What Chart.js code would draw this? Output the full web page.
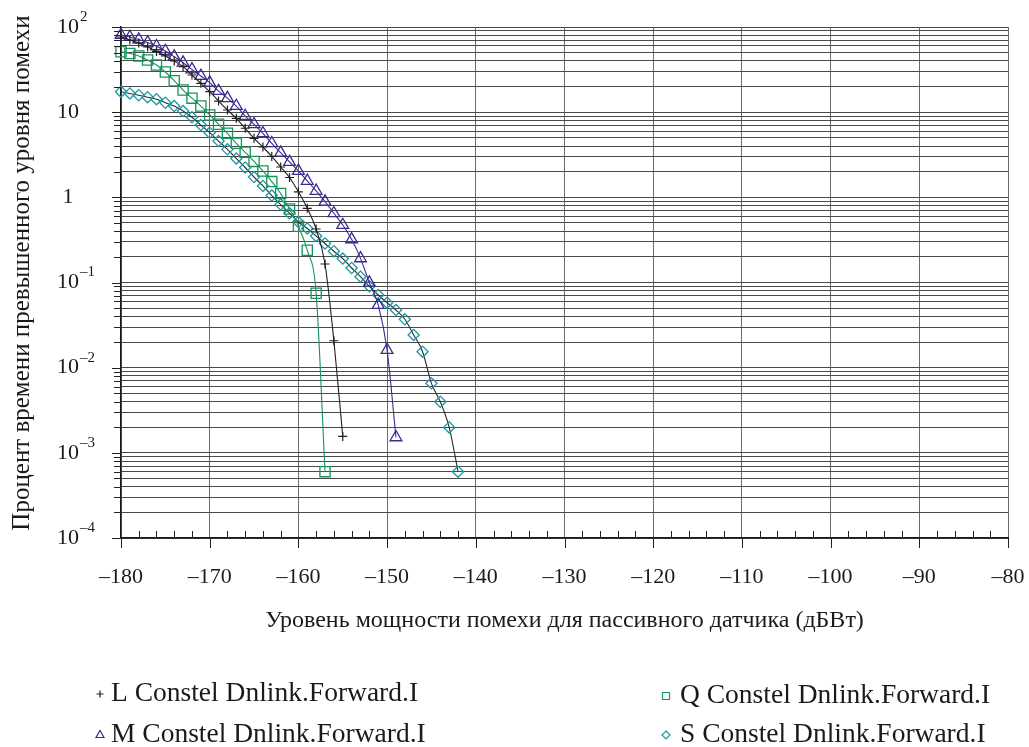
<!DOCTYPE html>
<html>
<head>
<meta charset="utf-8">
<script src="https://cdn.jsdelivr.net/npm/chart.js@4/dist/chart.umd.min.js"></script>
<style>
  html, body { margin: 0; padding: 0; background: #fff; }
  #wrap { width: 1029px; height: 747px; }
</style>
</head>
<body>
<div id="wrap"><canvas id="c" width="1029" height="747"></canvas></div>
<script>
// Interference power level, dBW (one point per dB)
const levelsDbw = [-180, -179, -178, -177, -176, -175, -174, -173, -172, -171,
                   -170, -169, -168, -167, -166, -165, -164, -163, -162, -161,
                   -160, -159, -158, -157, -156, -155, -154, -153, -152, -151,
                   -150, -149, -148, -147, -146, -145, -144, -143, -142];

// Percentage of time the interference level is exceeded
const seriesL = [76.3, 70.3, 64.9, 58.2, 51.5, 45.7, 39.9, 34.2, 27.3, 21.8,
                 17.4, 13.5, 10.6, 8.47, 6.47, 4.93, 3.90, 3.02, 2.27, 1.71,
                 1.16, 0.743, 0.425, 0.165, 0.0207, 0.00156];
const seriesM = [80.5, 76.3, 71.3, 65.8, 59.3, 52.2, 44.8, 38.1, 31.8, 26.6,
                 22.2, 17.7, 14.6, 11.8, 9.0, 7.2, 5.64, 4.31, 3.34, 2.60,
                 2.04, 1.56, 1.19, 0.889, 0.650, 0.473, 0.321, 0.192, 0.0995, 0.0545,
                 0.0161, 0.00152];
const seriesQ = [51.3, 48.9, 45.7, 41.0, 35.8, 29.6, 23.4, 18.2, 14.6, 11.8,
                 9.27, 7.21, 5.65, 4.31, 3.38, 2.64, 2.04, 1.53, 1.11, 0.730,
                 0.457, 0.239, 0.0747, 0.000601];
const seriesS = [17.4, 16.6, 15.8, 15.0, 14.2, 12.9, 11.8, 10.3, 8.71, 7.06,
                 5.74, 4.58, 3.66, 2.86, 2.24, 1.73, 1.36, 1.05, 0.822, 0.650,
                 0.513, 0.431, 0.352, 0.287, 0.233, 0.191, 0.148, 0.117, 0.0902, 0.0713,
                 0.0579, 0.0475, 0.0370, 0.0242, 0.0154, 0.00655, 0.00398, 0.00199, 0.000601];

const seriesNames = ['L Constel Dnlink.Forward.I', 'M Constel Dnlink.Forward.I',
                     'Q Constel Dnlink.Forward.I', 'S Constel Dnlink.Forward.I'];

// Axis ticks and labels
const xTickValues = [-180, -170, -160, -150, -140, -130, -120, -110, -100, -90, -80];
const xTickLabels = ['–180', '–170', '–160', '–150', '–140', '–130', '–120', '–110', '–100', '–90', '–80'];
const yDecadeValues = [100, 10, 1, 0.1, 0.01, 0.001, 0.0001];
const yDecadeBases = ['10', '10', '1', '10', '10', '10', '10'];
const yDecadeExponents = ['2', '', '', '–1', '–2', '–3', '–4'];
const xTitle = 'Уровень мощности помехи для пассивного датчика (дБВт)';
const yTitle = 'Процент времени превышенного уровня помехи';

const SERIF = '"Liberation Serif", "Times New Roman", serif';

function points(values) {
  return values.map((v, i) => ({ x: levelsDbw[i], y: v }));
}

const styles = [
  { line: '#1f1f1f', mark: '#1f1f1f', shape: 'cross',   r: 4.5, bw: 1.2 },
  { line: '#3b2b8e', mark: '#3b2b8e', shape: 'triangle', r: 6.8, bw: 1.3 },
  { line: '#17935c', mark: '#17935c', shape: 'rect',     r: 7.2, bw: 1.3 },
  { line: '#2b2b2b', mark: '#1d98a0', shape: 'rectRot',  r: 5.6, bw: 1.3 }
];
const allSeries = [seriesL, seriesM, seriesQ, seriesS];

const datasets = allSeries.map((vals, i) => ({
  label: seriesNames[i],
  data: points(vals),
  borderColor: styles[i].line,
  borderWidth: 1.1,
  pointStyle: styles[i].shape,
  pointRadius: styles[i].r,
  pointBorderColor: styles[i].mark,
  pointBackgroundColor: 'rgba(255,255,255,0)',
  pointBorderWidth: styles[i].bw,
  cubicInterpolationMode: 'monotone',
  fill: false,
  clip: false
}));

// Tick marks, axis labels, titles and legend drawn on top of the plot
const decorations = {
  id: 'decorations',
  afterDraw(chart) {
    const { ctx, chartArea: { left, right, top, bottom }, scales: { x, y } } = chart;
    ctx.save();
    ctx.strokeStyle = '#222';
    ctx.lineWidth = 1;
    const seg = (x1, y1, x2, y2) => { ctx.beginPath(); ctx.moveTo(x1, y1); ctx.lineTo(x2, y2); ctx.stroke(); };

    // minor x ticks every 2 dB, pointing up into the plot
    for (let v = -178; v < -80; v += 2) {
      if (v % 10 === 0) continue;
      const px = Math.round(x.getPixelForValue(v)) + 0.5;
      seg(px, bottom - 7, px, bottom);
    }
    // major x ticks, pointing down
    xTickValues.forEach(v => {
      const px = Math.round(x.getPixelForValue(v)) + 0.5;
      seg(px, bottom, px, bottom + 10);
    });
    // y ticks to the left of the axis
    y.ticks.forEach(t => {
      const py = Math.round(y.getPixelForValue(t.value)) + 0.5;
      seg(left - (t.major ? 9 : 7), py, left, py);
    });

    ctx.fillStyle = '#1a1a1a';
    // x tick labels
    ctx.font = '22px ' + SERIF;
    ctx.textAlign = 'center';
    ctx.textBaseline = 'middle';
    xTickValues.forEach((v, i) => {
      ctx.fillText(xTickLabels[i], x.getPixelForValue(v), 577);
    });

    // y tick labels with superscript exponents
    yDecadeValues.forEach((v, i) => {
      const py = y.getPixelForValue(v);
      ctx.font = '22px ' + SERIF;
      ctx.textAlign = 'center';
      ctx.textBaseline = 'middle';
      const base = yDecadeBases[i];
      ctx.fillText(base, 68, py);
      if (yDecadeExponents[i]) {
        const w = ctx.measureText(base).width;
        ctx.font = '15px ' + SERIF;
        ctx.textAlign = 'left';
        ctx.fillText(yDecadeExponents[i], 68 + w / 2 + 1, py - 10);
      }
    });

    // axis titles
    ctx.textAlign = 'center';
    ctx.textBaseline = 'middle';
    ctx.font = '24px ' + SERIF;
    ctx.fillText(xTitle, (left + right) / 2, 621);
    ctx.save();
    ctx.font = '25px ' + SERIF;
    ctx.translate(22, 273);
    ctx.rotate(-Math.PI / 2);
    ctx.fillText(yTitle, 0, 0);
    ctx.restore();

    // legend: two columns
    const legendPos = [
      { mx: 100, ty: 694, tx: 111 },
      { mx: 100, ty: 735, tx: 111 },
      { mx: 666, ty: 696, tx: 680 },
      { mx: 666, ty: 735, tx: 680 }
    ];
    legendPos.forEach((p, i) => {
      const st = styles[i];
      ctx.strokeStyle = st.mark;
      ctx.lineWidth = 1.2;
      const cx = p.mx, cy = p.ty;
      ctx.beginPath();
      if (st.shape === 'cross') {
        ctx.moveTo(cx - 3.5, cy); ctx.lineTo(cx + 3.5, cy);
        ctx.moveTo(cx, cy - 3.5); ctx.lineTo(cx, cy + 3.5);
      } else if (st.shape === 'triangle') {
        ctx.moveTo(cx, cy - 4.5); ctx.lineTo(cx + 4, cy + 2.5); ctx.lineTo(cx - 4, cy + 2.5); ctx.closePath();
      } else if (st.shape === 'rect') {
        ctx.rect(cx - 3.5, cy - 3.5, 7, 7);
      } else {
        ctx.moveTo(cx, cy - 4); ctx.lineTo(cx + 4, cy); ctx.lineTo(cx, cy + 4); ctx.lineTo(cx - 4, cy); ctx.closePath();
      }
      ctx.stroke();
      ctx.fillStyle = '#1a1a1a';
      ctx.font = '27.5px ' + SERIF;
      ctx.textAlign = 'left';
      ctx.textBaseline = 'middle';
      ctx.fillText(seriesNames[i], p.tx, p.ty);
    });
    ctx.restore();
  }
};

new Chart(document.getElementById('c'), {
  type: 'line',
  data: { datasets },
  options: {
    responsive: false,
    animation: false,
    devicePixelRatio: 1,
    layout: { padding: { top: 27, right: 21, left: 0, bottom: 0 } },
    plugins: { legend: { display: false }, tooltip: { enabled: false } },
    scales: {
      x: {
        type: 'linear',
        min: -180,
        max: -80,
        afterBuildTicks: s => { s.ticks = xTickValues.map(v => ({ value: v })); },
        afterFit: s => { s.height = 209; },
        ticks: { display: false },
        grid: { color: '#6b6b6b', lineWidth: 1, drawTicks: false },
        border: { display: true, color: '#1a1a1a', width: 1.5 }
      },
      y: {
        type: 'logarithmic',
        min: 0.0001,
        max: 100,
        afterBuildTicks: s => {
          const t = [];
          for (let e = -4; e <= 2; e++) {
            for (let m = 1; m <= 9; m++) {
              const v = m * Math.pow(10, e);
              if (v > 100.0001) break;
              t.push({ value: v, major: m === 1 });
            }
          }
          s.ticks = t;
        },
        afterFit: s => { s.width = 121; },
        ticks: { display: false, autoSkip: false },
        grid: { color: '#4a4a4a', lineWidth: 1, drawTicks: false },
        border: { display: true, color: '#1a1a1a', width: 1.5 }
      }
    }
  },
  plugins: [decorations]
});
</script>
</body>
</html>
